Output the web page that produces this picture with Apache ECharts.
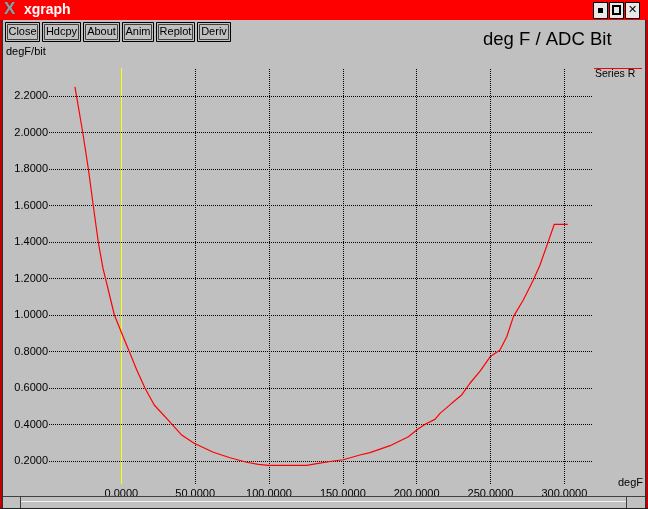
<!DOCTYPE html>
<html>
<head>
<meta charset="utf-8">
<script src="https://cdn.jsdelivr.net/npm/echarts@6/dist/echarts.min.js"></script>
<style>
html,body{margin:0;padding:0;background:#c0c0c0;}
#c{width:648px;height:509px;}
</style>
</head>
<body>
<div id="c"></div>
<script>
// ---- data ----
const xTicks = [0, 50, 100, 150, 200, 250, 300];
const yTicks = [0.2, 0.4, 0.6, 0.8, 1.0, 1.2, 1.4, 1.6, 1.8, 2.0, 2.2];
const degF = [-31.4, -26.1, -22.3, -19.0, -15.6, -12.5, -10.4, -7.7, -4.7, 0.3, 5.4, 10.4, 16.0, 22.3, 34.1, 40.9, 49.3, 62.3, 73.6, 84.9, 92.8, 99.5, 125.5, 133.4, 143.6, 150.3, 161.6, 168.4, 182.0, 194.4, 200.0, 205.7, 212.4, 215.8, 223.7, 230.5, 236.1, 243.2, 249.7, 256.4, 261.0, 265.5, 272.2, 279.0, 283.5, 289.1, 293.2, 302.3];
const degFPerBit = [2.25, 2.0, 1.80, 1.60, 1.40, 1.26, 1.19, 1.10, 1.00, 0.90, 0.80, 0.70, 0.60, 0.507, 0.403, 0.342, 0.297, 0.248, 0.218, 0.193, 0.182, 0.176, 0.176, 0.187, 0.200, 0.207, 0.233, 0.246, 0.284, 0.333, 0.370, 0.401, 0.428, 0.461, 0.516, 0.562, 0.626, 0.695, 0.771, 0.808, 0.881, 0.991, 1.082, 1.192, 1.274, 1.402, 1.497, 1.497];
const buttons = ['Close', 'Hdcpy', 'About', 'Anim', 'Replot', 'Deriv'];
const seriesName = 'Series R';
const titleText = 'deg F / ADC Bit';
const yName = 'degF/bit';
const xName = 'degF';

const FONT = '"Liberation Sans", Arial, Helvetica, sans-serif';
const chart = echarts.init(document.getElementById('c'), null, {renderer: 'canvas'});

const pts = degF.map((x, i) => [x, degFPerBit[i]]);
const dotted = {color: '#000', width: 1, type: [1, 1]};

const gridMarks = [];
xTicks.forEach(v => {
  if (v === 0) gridMarks.push({xAxis: v, lineStyle: {color: '#ffff00', width: 1, type: 'solid'}});
  else gridMarks.push({xAxis: v, lineStyle: dotted});
});
yTicks.forEach(v => gridMarks.push({yAxis: v, lineStyle: dotted}));

// window chrome
const btnX = [5, 42, 83, 122, 156, 197];
const btnW = [34, 38, 36, 31, 38, 33];
const chrome = [];
chrome.push({type: 'rect', shape: {x: 0, y: 0, width: 648, height: 20}, style: {fill: '#ff0000'}, z: 10});
chrome.push({type: 'text', x: 4, y: 1, style: {text: 'X', font: 'bold 17px ' + FONT, fill: '#9a9a9a', stroke: '#404040', lineWidth: 0.6}, z: 11});
chrome.push({type: 'text', x: 24, y: 3, style: {text: 'xgraph', font: 'bold 14px ' + FONT, fill: '#ffffff'}, z: 11});
[[593, 'sq'], [609, 'box'], [625, 'x']].forEach(([bx, kind]) => {
  chrome.push({type: 'rect', shape: {x: bx + 0.5, y: 2.5, width: 14, height: 16}, style: {fill: '#e8e8e8', stroke: '#000', lineWidth: 1}, z: 11});
  if (kind === 'sq') chrome.push({type: 'rect', shape: {x: bx + 5, y: 8, width: 5, height: 5}, style: {fill: '#000'}, z: 12});
  if (kind === 'box') chrome.push({type: 'rect', shape: {x: bx + 4, y: 6, width: 7, height: 8}, style: {fill: 'none', stroke: '#000', lineWidth: 2}, z: 12});
  if (kind === 'x') chrome.push({type: 'text', x: bx + 7.5, y: 10.5, style: {text: '✕', font: 'bold 11px "DejaVu Sans"', fill: '#000', align: 'center', verticalAlign: 'middle'}, z: 12});
});
buttons.forEach((b, i) => {
  const x = btnX[i], w = btnW[i];
  chrome.push({type: 'rect', shape: {x: x + 0.5, y: 22.5, width: w, height: 19}, style: {fill: '#c0c0c0', stroke: '#000', lineWidth: 1}, z: 11});
  chrome.push({type: 'rect', shape: {x: x + 2.5, y: 24.5, width: w - 4, height: 15}, style: {fill: 'none', stroke: '#404040', lineWidth: 1}, z: 11});
  chrome.push({type: 'text', x: x + w / 2 + 0.5, y: 32, style: {text: b, font: '11px ' + FONT, fill: '#000', align: 'center', verticalAlign: 'middle'}, z: 12});
});
// frame
chrome.push({type: 'line', shape: {x1: 2.5, y1: 20, x2: 2.5, y2: 509}, style: {stroke: '#303030', lineWidth: 1}, z: 11});
chrome.push({type: 'line', shape: {x1: 645.5, y1: 20, x2: 645.5, y2: 509}, style: {stroke: '#303030', lineWidth: 1}, z: 11});
chrome.push({type: 'rect', shape: {x: 0, y: 20, width: 2, height: 489}, style: {fill: '#c00000'}, z: 11});
chrome.push({type: 'rect', shape: {x: 646, y: 20, width: 2, height: 489}, style: {fill: '#c00000'}, z: 11});
chrome.push({type: 'line', shape: {x1: 3, y1: 496.5, x2: 645, y2: 496.5}, style: {stroke: '#404040', lineWidth: 1}, z: 11});
chrome.push({type: 'line', shape: {x1: 20.5, y1: 497, x2: 20.5, y2: 508}, style: {stroke: '#404040', lineWidth: 1}, z: 11});
chrome.push({type: 'line', shape: {x1: 626.5, y1: 497, x2: 626.5, y2: 508}, style: {stroke: '#404040', lineWidth: 1}, z: 11});
chrome.push({type: 'line', shape: {x1: 21, y1: 501.5, x2: 626, y2: 501.5}, style: {stroke: '#f0f0f0', lineWidth: 1}, z: 11});
chrome.push({type: 'line', shape: {x1: 0, y1: 508.5, x2: 648, y2: 508.5}, style: {stroke: '#202020', lineWidth: 1}, z: 11});
// texts
chrome.push({type: 'text', x: 483, y: 40, style: {text: titleText, font: '18.5px ' + FONT, fill: '#000', verticalAlign: 'middle'}, z: 11});
chrome.push({type: 'text', x: 6, y: 52, style: {text: yName, font: '11px ' + FONT, fill: '#000', verticalAlign: 'middle'}, z: 11});
chrome.push({type: 'text', x: 618, y: 483, style: {text: xName, font: '11px ' + FONT, fill: '#000', verticalAlign: 'middle'}, z: 11});
// legend
chrome.push({type: 'line', shape: {x1: 594, y1: 68.5, x2: 642, y2: 68.5}, style: {stroke: '#ff0000', lineWidth: 1}, z: 11});
chrome.push({type: 'text', x: 595, y: 74, style: {text: seriesName, font: '10.5px ' + FONT, fill: '#000', verticalAlign: 'middle'}, z: 11});

chart.setOption({
  backgroundColor: '#c0c0c0',
  animation: false,
  grid: {left: 49, right: 55, top: 68, bottom: 25, containLabel: false},
  xAxis: {
    type: 'value', min: -48.96, max: 319.4,
    axisLine: {show: false}, axisTick: {show: false}, splitLine: {show: false},
    axisLabel: {customValues: xTicks, margin: 4, color: '#000', fontFamily: FONT, fontSize: 11,
      formatter: v => v.toFixed(4)}
  },
  yAxis: {
    type: 'value', min: 0.074, max: 2.3534,
    axisLine: {show: false}, axisTick: {show: false}, splitLine: {show: false},
    axisLabel: {customValues: yTicks, margin: 1, color: '#000', fontFamily: FONT, fontSize: 11,
      formatter: v => v.toFixed(4)}
  },
  series: [{
    name: seriesName, type: 'line', data: pts, showSymbol: false, symbol: 'none',
    lineStyle: {color: '#ff0000', width: 1.2}, z: 5,
    markLine: {silent: true, symbol: 'none', label: {show: false}, data: gridMarks, z: 1, animation: false}
  }],
  graphic: chrome
});
</script>
</body>
</html>
